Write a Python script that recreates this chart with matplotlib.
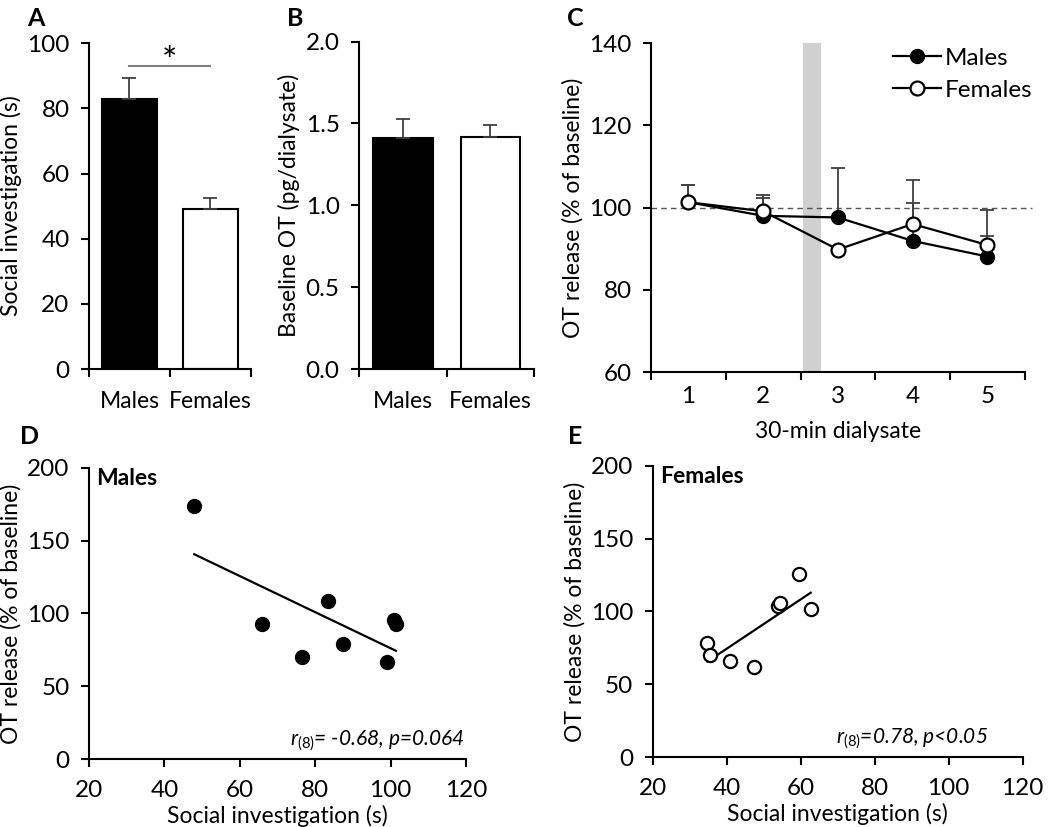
import numpy as np
import matplotlib
matplotlib.use('Agg')
import matplotlib.pyplot as plt

plt.rcParams['font.family'] = ['Lato', 'DejaVu Sans']
plt.rcParams['mathtext.fontset'] = 'custom'
plt.rcParams['mathtext.rm'] = 'Lato'
plt.rcParams['mathtext.it'] = 'Lato:italic'
plt.rcParams['mathtext.bf'] = 'Lato:bold'

# A / B: bar data
groups = ['Males', 'Females']
social_mean = [83.0, 49.0]
social_sem = [6.3, 3.5]
baseline_mean = [1.41, 1.415]
baseline_sem = [0.115, 0.075]

# C: time course
dialysate = [1, 2, 3, 4, 5]
males_ot = [101.3, 98.0, 97.6, 91.9, 88.1]
males_ot_err = [4.3, 4.4, 11.9, 9.3, 5.1]
females_ot = [101.3, 99.1, 89.8, 96.0, 90.9]
females_ot_err = [4.3, 3.9, 0.0, 10.8, 8.5]

# D / E: correlations
males_si = [47.9, 65.9, 76.4, 83.5, 87.3, 99.0, 101.0, 101.4]
males_rel = [173.9, 92.5, 70.0, 108.9, 79.2, 67.0, 95.4, 92.5]
females_si = [34.8, 35.5, 41.0, 47.5, 53.9, 54.4, 59.6, 62.7]
females_rel = [78.2, 70.2, 65.8, 61.7, 103.9, 105.8, 125.7, 101.7]

TFS = 17.5   # tick labels
CFS = 16.5   # category / legend labels
FS = 16.5    # axis labels
LW = 1.5
ERRC = '#404040'

fig = plt.figure(figsize=(10.5, 8.27), dpi=100)


def style_axis(ax):
    for s in ['top', 'right']:
        ax.spines[s].set_visible(False)
    for s in ['left', 'bottom']:
        ax.spines[s].set_linewidth(LW)
        ax.spines[s].set_color('black')
    ax.tick_params(axis='both', direction='out', length=6, width=LW, labelsize=TFS)
    ax.tick_params(axis='y', pad=8)
    ax.tick_params(axis='x', pad=6)


def bar_panel(rect, means, sems, ylim, yticks, ylabel, fmt, letter, letter_x):
    ax = fig.add_axes(rect)
    style_axis(ax)
    x = np.array([0.5, 1.5])
    ax.bar(x, means, width=0.68, color=['black', 'white'], edgecolor='black', linewidth=LW, zorder=2)
    ax.errorbar(x, means, yerr=[[0, 0], sems], fmt='none', ecolor=ERRC, elinewidth=1.3,
                capsize=5, capthick=1.3, zorder=3)
    ax.set_xlim(0, 2)
    ax.set_xticks([0, 1, 2])
    ax.set_xticklabels([])
    for xi, g in zip(x, groups):
        ax.text(xi, -0.1, g, transform=ax.get_xaxis_transform(), ha='center', va='center', fontsize=CFS)
    ax.set_ylim(*ylim)
    ax.set_yticks(yticks)
    ax.set_yticklabels([fmt % t for t in yticks])
    ax.set_ylabel(ylabel, fontsize=FS, labelpad=4)
    fig.text(letter_x, 0.978, letter, fontsize=18, fontweight='bold', va='center')
    return ax


axA = bar_panel([0.0848, 0.5538, 0.154, 0.394], social_mean, social_sem, (0, 100),
                [0, 20, 40, 60, 80, 100], 'Social investigation (s)', '%d', 'A', 0.026)
axA.plot([0.5, 1.49], [93, 93], color='#808080', lw=1.5, clip_on=False)
axA.text(1.0, 89, '*', ha='center', va='bottom', fontsize=26)

axB = bar_panel([0.342, 0.5538, 0.1666, 0.396], baseline_mean, baseline_sem, (0, 2.0),
                [0, 0.5, 1.0, 1.5, 2.0], 'Baseline OT (pg/dialysate)', '%.1f', 'B', 0.273)

# C
axC = fig.add_axes([0.620, 0.550, 0.356, 0.398])
style_axis(axC)
axC.set_xlim(0.5, 5.5)
axC.set_ylim(60, 140)
axC.set_xticks([0.5, 1.5, 2.5, 3.5, 4.5, 5.5])
axC.set_xticklabels([])
axC.set_xticks(dialysate, minor=True)
axC.set_xticklabels([str(d) for d in dialysate], minor=True)
axC.tick_params(axis='x', which='minor', length=0, labelsize=TFS, pad=10)
axC.set_yticks([60, 80, 100, 120, 140])
axC.axvspan(2.53, 2.77, color='#d0d0d0', lw=0, zorder=1)
axC.axhline(100, color='#555555', lw=1.0, ls=(0, (4, 3)), zorder=1, xmax=1.02, clip_on=False)
axC.errorbar(dialysate, males_ot, yerr=[[0] * 5, males_ot_err], fmt='none', ecolor=ERRC,
             elinewidth=1.3, capsize=5, capthick=1.3, zorder=2)
axC.errorbar(dialysate, females_ot, yerr=[[0] * 5, females_ot_err], fmt='none', ecolor=ERRC,
             elinewidth=1.3, capsize=5, capthick=1.3, zorder=2)
axC.plot(dialysate, males_ot, '-o', color='black', mfc='black', mec='black', ms=10, lw=1.6, zorder=4,
         label='Males')
axC.plot(dialysate, females_ot, '-o', color='black', mfc='white', mec='black', ms=10, mew=1.6, lw=1.6,
         zorder=5, label='Females')
axC.set_ylabel('OT release (% of baseline)', fontsize=FS, labelpad=4)
axC.set_xlabel('30-min dialysate', fontsize=FS, labelpad=10)
axC.legend(loc='upper right', frameon=False, fontsize=TFS, handlelength=2.0, handletextpad=0.15,
           borderaxespad=0.2, labelspacing=0.45, bbox_to_anchor=(1.06, 1.03))
fig.text(0.540, 0.978, 'C', fontsize=18, fontweight='bold', va='center')


def scatter_panel(rect, xs, ys, filled, title, stat, stat_x, letter, letter_x):
    ax = fig.add_axes(rect)
    style_axis(ax)
    ax.tick_params(axis='x', pad=9)
    ax.set_xlim(20, 120)
    ax.set_ylim(0, 200)
    ax.set_xticks([20, 40, 60, 80, 100, 120])
    ax.set_yticks([0, 50, 100, 150, 200])
    if filled:
        ax.scatter(xs, ys, s=100, c='black', edgecolors='black', zorder=3)
    else:
        ax.scatter(xs, ys, s=90, c='white', edgecolors='black', linewidths=1.6, zorder=3)
    k, b = np.polyfit(xs, ys, 1)
    xl = np.array([min(xs), max(xs)])
    ax.plot(xl, k * xl + b, color='black', lw=1.6, zorder=2)
    ax.text(22, 193, title, fontsize=FS, fontweight='bold', va='center', ha='left')
    ax.text(stat_x, 4, stat, fontsize=15, style='italic', ha='right', va='bottom')
    ax.set_xlabel('Social investigation (s)', fontsize=FS, labelpad=3)
    ax.set_ylabel('OT release (% of baseline)', fontsize=FS, labelpad=4)
    fig.text(letter_x, 0.472, letter, fontsize=18, fontweight='bold', va='center')
    return ax


scatter_panel([0.0848, 0.0822, 0.359, 0.352], males_si, males_rel, True, 'Males',
              r'$\mathit{r_{(8)}}$= -0.68, p=0.064', 119.5, 'D', 0.019)
scatter_panel([0.6216, 0.0846, 0.3524, 0.352], females_si, females_rel, False, 'Females',
              r'$\mathit{r_{(8)}}$=0.78, p<0.05', 110.6, 'E', 0.541)

fig.savefig('out.png', dpi=100)
